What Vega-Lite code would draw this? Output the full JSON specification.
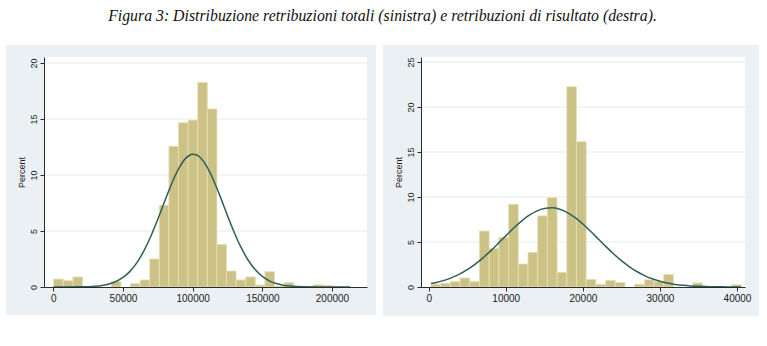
{
  "$schema": "https://vega.github.io/schema/vega-lite/v6.json",
  "background": "white",
  "padding": {"left": 5, "top": 8, "right": 5, "bottom": 5},
  "title": {
    "text": "Figura 3: Distribuzione retribuzioni totali (sinistra) e retribuzioni di risultato (destra).",
    "font": "Liberation Serif",
    "fontStyle": "italic",
    "fontWeight": "normal",
    "fontSize": 15.8,
    "color": "#111111",
    "anchor": "middle",
    "offset": 20
  },
  "datasets": {
    "totali": [
      {"bin_start": 290, "bin_end": 7180, "pct": 0.71},
      {"bin_start": 7180, "bin_end": 14070, "pct": 0.57},
      {"bin_start": 14070, "bin_end": 20960, "pct": 0.89},
      {"bin_start": 41630, "bin_end": 48520, "pct": 0.5},
      {"bin_start": 55410, "bin_end": 62300, "pct": 0.3},
      {"bin_start": 62300, "bin_end": 69190, "pct": 0.63},
      {"bin_start": 69190, "bin_end": 76080, "pct": 2.5},
      {"bin_start": 76080, "bin_end": 82970, "pct": 7.3},
      {"bin_start": 82970, "bin_end": 89860, "pct": 12.56},
      {"bin_start": 89860, "bin_end": 96750, "pct": 14.67},
      {"bin_start": 96750, "bin_end": 103640, "pct": 14.9},
      {"bin_start": 103640, "bin_end": 110530, "pct": 18.27},
      {"bin_start": 110530, "bin_end": 117420, "pct": 15.9},
      {"bin_start": 117420, "bin_end": 124310, "pct": 3.8},
      {"bin_start": 124310, "bin_end": 131200, "pct": 1.43},
      {"bin_start": 131200, "bin_end": 138090, "pct": 0.63},
      {"bin_start": 138090, "bin_end": 144980, "pct": 0.9},
      {"bin_start": 144980, "bin_end": 151870, "pct": 0.18},
      {"bin_start": 151870, "bin_end": 158760, "pct": 1.37},
      {"bin_start": 158760, "bin_end": 165650, "pct": 0.08},
      {"bin_start": 165650, "bin_end": 172540, "pct": 0.39},
      {"bin_start": 186320, "bin_end": 193210, "pct": 0.2},
      {"bin_start": 193210, "bin_end": 200100, "pct": 0.15},
      {"bin_start": 200100, "bin_end": 206990, "pct": 0.05}
    ],
    "curva_totali": [
      {"x": 290, "pct": 0.0003},
      {"x": 10000, "pct": 0.0025},
      {"x": 20000, "pct": 0.0146},
      {"x": 25000, "pct": 0.033},
      {"x": 30000, "pct": 0.07},
      {"x": 35000, "pct": 0.141},
      {"x": 40000, "pct": 0.27},
      {"x": 45000, "pct": 0.492},
      {"x": 50000, "pct": 0.85},
      {"x": 55000, "pct": 1.396},
      {"x": 60000, "pct": 2.177},
      {"x": 65000, "pct": 3.223},
      {"x": 70000, "pct": 4.533},
      {"x": 75000, "pct": 6.053},
      {"x": 80000, "pct": 7.676},
      {"x": 85000, "pct": 9.245},
      {"x": 90000, "pct": 10.574},
      {"x": 95000, "pct": 11.485},
      {"x": 97500, "pct": 11.74},
      {"x": 100000, "pct": 11.847},
      {"x": 102500, "pct": 11.8},
      {"x": 105000, "pct": 11.605},
      {"x": 110000, "pct": 10.796},
      {"x": 115000, "pct": 9.537},
      {"x": 120000, "pct": 8.001},
      {"x": 125000, "pct": 6.374},
      {"x": 130000, "pct": 4.823},
      {"x": 135000, "pct": 3.465},
      {"x": 140000, "pct": 2.364},
      {"x": 145000, "pct": 1.532},
      {"x": 150000, "pct": 0.943},
      {"x": 155000, "pct": 0.551},
      {"x": 160000, "pct": 0.306},
      {"x": 165000, "pct": 0.161},
      {"x": 170000, "pct": 0.081},
      {"x": 180000, "pct": 0.017},
      {"x": 190000, "pct": 0.003},
      {"x": 200000, "pct": 0.0004},
      {"x": 213000, "pct": 0}
    ],
    "risultato": [
      {"bin_start": 300, "bin_end": 1558, "pct": 0.3},
      {"bin_start": 1558, "bin_end": 2816, "pct": 0.4},
      {"bin_start": 2816, "bin_end": 4074, "pct": 0.6},
      {"bin_start": 4074, "bin_end": 5332, "pct": 1.0},
      {"bin_start": 5332, "bin_end": 6590, "pct": 0.6},
      {"bin_start": 6590, "bin_end": 7848, "pct": 6.22},
      {"bin_start": 7848, "bin_end": 9106, "pct": 4.3},
      {"bin_start": 9106, "bin_end": 10364, "pct": 5.5},
      {"bin_start": 10364, "bin_end": 11622, "pct": 9.19},
      {"bin_start": 11622, "bin_end": 12880, "pct": 2.56},
      {"bin_start": 12880, "bin_end": 14138, "pct": 3.85},
      {"bin_start": 14138, "bin_end": 15396, "pct": 7.9},
      {"bin_start": 15396, "bin_end": 16654, "pct": 9.93},
      {"bin_start": 16654, "bin_end": 17912, "pct": 1.63},
      {"bin_start": 17912, "bin_end": 19170, "pct": 22.26},
      {"bin_start": 19170, "bin_end": 20428, "pct": 16.15},
      {"bin_start": 20428, "bin_end": 21686, "pct": 0.85},
      {"bin_start": 21686, "bin_end": 22944, "pct": 0.3},
      {"bin_start": 22944, "bin_end": 24202, "pct": 0.74},
      {"bin_start": 24202, "bin_end": 25460, "pct": 0.5},
      {"bin_start": 26718, "bin_end": 27976, "pct": 0.3},
      {"bin_start": 27976, "bin_end": 29234, "pct": 0.8},
      {"bin_start": 29234, "bin_end": 30492, "pct": 0.6},
      {"bin_start": 30492, "bin_end": 31750, "pct": 1.4},
      {"bin_start": 34266, "bin_end": 35524, "pct": 0.45},
      {"bin_start": 39298, "bin_end": 40556, "pct": 0.25}
    ],
    "curva_risultato": [
      {"x": 300, "pct": 0.387},
      {"x": 1000, "pct": 0.509},
      {"x": 2000, "pct": 0.739},
      {"x": 3000, "pct": 1.045},
      {"x": 4000, "pct": 1.439},
      {"x": 5000, "pct": 1.931},
      {"x": 6000, "pct": 2.524},
      {"x": 7000, "pct": 3.214},
      {"x": 8000, "pct": 3.989},
      {"x": 9000, "pct": 4.823},
      {"x": 10000, "pct": 5.681},
      {"x": 11000, "pct": 6.521},
      {"x": 12000, "pct": 7.293},
      {"x": 13000, "pct": 7.947},
      {"x": 14000, "pct": 8.437},
      {"x": 15000, "pct": 8.727},
      {"x": 16000, "pct": 8.795},
      {"x": 17000, "pct": 8.637},
      {"x": 18000, "pct": 8.263},
      {"x": 19000, "pct": 7.703},
      {"x": 20000, "pct": 6.996},
      {"x": 21000, "pct": 6.191},
      {"x": 22000, "pct": 5.337},
      {"x": 23000, "pct": 4.484},
      {"x": 24000, "pct": 3.67},
      {"x": 25000, "pct": 2.926},
      {"x": 26000, "pct": 2.274},
      {"x": 27000, "pct": 1.721},
      {"x": 28000, "pct": 1.27},
      {"x": 29000, "pct": 0.913},
      {"x": 30000, "pct": 0.639},
      {"x": 31000, "pct": 0.436},
      {"x": 32000, "pct": 0.29},
      {"x": 33000, "pct": 0.188},
      {"x": 34000, "pct": 0.118},
      {"x": 35000, "pct": 0.073},
      {"x": 36000, "pct": 0.044},
      {"x": 37000, "pct": 0.025},
      {"x": 38000, "pct": 0.014},
      {"x": 40000, "pct": 0.004},
      {"x": 40500, "pct": 0.002}
    ],
    "griglia_totali": [{"v": 5}, {"v": 10}, {"v": 15}, {"v": 20}],
    "griglia_risultato": [{"v": 5}, {"v": 10}, {"v": 15}, {"v": 20}, {"v": 25}],
    "pannello": [{"pannello": 1}]
  },
  "config": {
    "view": {"stroke": null},
    "axis": {
      "grid": false,
      "domainColor": "#2b2b2b",
      "tickColor": "#2b2b2b",
      "labelColor": "#1a1a1a",
      "titleColor": "#1a1a1a",
      "labelFont": "Liberation Sans",
      "titleFont": "Liberation Sans",
      "labelFontSize": 10,
      "titleFontSize": 9,
      "titleFontWeight": "normal",
      "tickSize": 4,
      "labelPadding": 2
    },
    "axisY": {
      "labelAngle": 270,
      "labelAlign": "center",
      "labelBaseline": "bottom",
      "labelFontSize": 9,
      "titlePadding": 3
    }
  },
  "spacing": 5,
  "hconcat": [
    {
      "width": 323,
      "height": 230,
      "layer": [
        {
          "data": {"name": "pannello"},
          "mark": {"type": "rect", "color": "#EAF0F3", "clip": false},
          "encoding": {
            "x": {"datum": -33944, "type": "quantitative"},
            "x2": {"datum": 231575},
            "y": {"datum": -2.5, "type": "quantitative"},
            "y2": {"datum": 21.607}
          }
        },
        {
          "data": {"name": "pannello"},
          "mark": {"type": "rect", "color": "#ffffff"},
          "encoding": {
            "x": {"datum": -6674, "type": "quantitative"},
            "x2": {"datum": 225116},
            "y": {"datum": 0, "type": "quantitative"},
            "y2": {"datum": 20.536}
          }
        },
        {
          "data": {"name": "griglia_totali"},
          "mark": {"type": "rule", "color": "#E3EBEE", "strokeWidth": 1},
          "encoding": {
            "y": {"field": "v", "type": "quantitative"},
            "x": {"datum": -6674, "type": "quantitative"},
            "x2": {"datum": 225116}
          }
        },
        {
          "data": {"name": "totali"},
          "mark": {"type": "rect", "color": "#CDC286", "stroke": "#E6E0B8", "strokeWidth": 0.8},
          "encoding": {
            "x": {
              "field": "bin_start",
              "type": "quantitative",
              "scale": {"domain": [-6674, 225116], "nice": false, "zero": false},
              "axis": {"values": [0, 50000, 100000, 150000, 200000], "format": "d", "title": null, "zindex": 1}
            },
            "x2": {"field": "bin_end"},
            "y": {
              "field": "pct",
              "type": "quantitative",
              "scale": {"domain": [0, 20.536], "nice": false},
              "axis": {"values": [0, 5, 10, 15, 20], "title": "Percent", "zindex": 1}
            },
            "y2": {"datum": 0}
          }
        },
        {
          "data": {"name": "curva_totali"},
          "mark": {"type": "line", "color": "#2F5F58", "strokeWidth": 1.5, "interpolate": "monotone"},
          "encoding": {
            "x": {"field": "x", "type": "quantitative"},
            "y": {"field": "pct", "type": "quantitative"}
          }
        }
      ]
    },
    {
      "width": 324,
      "height": 230,
      "layer": [
        {
          "data": {"name": "pannello"},
          "mark": {"type": "rect", "color": "#EAF0F3", "clip": false},
          "encoding": {
            "x": {"datum": -5929, "type": "quantitative"},
            "x2": {"datum": 42852},
            "y": {"datum": -3.222, "type": "quantitative"},
            "y2": {"datum": 26.889}
          }
        },
        {
          "data": {"name": "pannello"},
          "mark": {"type": "rect", "color": "#ffffff"},
          "encoding": {
            "x": {"datum": -999, "type": "quantitative"},
            "x2": {"datum": 41035},
            "y": {"datum": 0, "type": "quantitative"},
            "y2": {"datum": 25.556}
          }
        },
        {
          "data": {"name": "griglia_risultato"},
          "mark": {"type": "rule", "color": "#E3EBEE", "strokeWidth": 1},
          "encoding": {
            "y": {"field": "v", "type": "quantitative"},
            "x": {"datum": -999, "type": "quantitative"},
            "x2": {"datum": 41035}
          }
        },
        {
          "data": {"name": "risultato"},
          "mark": {"type": "rect", "color": "#CDC286", "stroke": "#E6E0B8", "strokeWidth": 0.8},
          "encoding": {
            "x": {
              "field": "bin_start",
              "type": "quantitative",
              "scale": {"domain": [-999, 41035], "nice": false, "zero": false},
              "axis": {"values": [0, 10000, 20000, 30000, 40000], "format": "d", "title": null, "zindex": 1}
            },
            "x2": {"field": "bin_end"},
            "y": {
              "field": "pct",
              "type": "quantitative",
              "scale": {"domain": [0, 25.556], "nice": false},
              "axis": {"values": [0, 5, 10, 15, 20, 25], "title": "Percent", "zindex": 1}
            },
            "y2": {"datum": 0}
          }
        },
        {
          "data": {"name": "curva_risultato"},
          "mark": {"type": "line", "color": "#2F5F58", "strokeWidth": 1.5, "interpolate": "monotone"},
          "encoding": {
            "x": {"field": "x", "type": "quantitative"},
            "y": {"field": "pct", "type": "quantitative"}
          }
        }
      ]
    }
  ]
}
